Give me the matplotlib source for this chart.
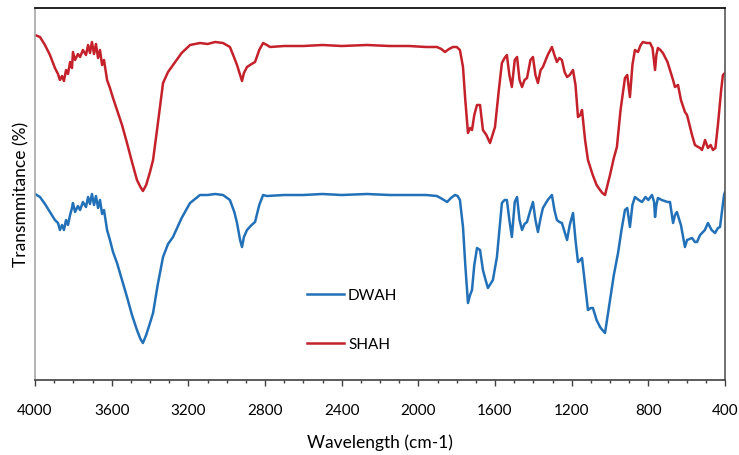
import matplotlib
matplotlib.use("Agg")
import matplotlib.pyplot as plt
from matplotlib.ticker import MultipleLocator

plt.rcParams['font.family'] = ['Lato', 'DejaVu Sans']

# FTIR spectra, transmittance in arbitrary (offset) units
shah_wn = [4000, 3974, 3948, 3922, 3896, 3880, 3870, 3859, 3849, 3838, 3828, 3817, 3807, 3802,
           3791, 3776, 3765, 3750, 3734, 3723, 3713, 3703, 3692, 3682, 3671, 3661, 3650, 3640,
           3624, 3609, 3593, 3572, 3546, 3520, 3494, 3468, 3450, 3437, 3420, 3400, 3384, 3360,
           3332, 3306, 3280, 3235, 3191, 3139, 3100, 3060, 3019, 2983, 2960, 2946, 2930, 2920,
           2910, 2894, 2870, 2852, 2830, 2810, 2790, 2774, 2700, 2600, 2500, 2400, 2268, 2150,
           2050, 1960, 1903, 1880, 1861, 1840, 1819, 1800, 1783, 1767, 1755, 1741, 1730, 1720,
           1708, 1694, 1678, 1663, 1645, 1626, 1600, 1580, 1564, 1550, 1538, 1525, 1512, 1497,
           1485, 1472, 1459, 1446, 1433, 1415, 1402, 1389, 1376, 1362, 1350, 1325, 1303, 1290,
           1277, 1264, 1251, 1237, 1224, 1210, 1193, 1180, 1167, 1155, 1146, 1130, 1115, 1090,
           1070, 1052, 1040, 1026, 1000, 980, 964, 945, 922, 910, 896, 883, 870, 854, 840, 828,
           810, 791, 778, 765, 758, 750, 737, 724, 700, 687, 671, 661, 645, 630, 609, 598, 572,
           557, 540, 530, 520, 510, 504, 489, 475, 463, 450, 437, 420, 411, 400]
shah_t = [345, 343, 335, 325, 312, 306, 300, 304, 299, 310, 306, 318, 312, 328,
          320, 326, 323, 330, 325, 335, 327, 338, 326, 336, 322, 330, 315, 320,
          300, 292, 282, 270, 255, 237, 218, 200, 193, 189, 195, 208, 220, 255,
          297, 308, 315, 327, 335, 337, 336, 338, 337, 333, 322, 315, 305, 299,
          307, 313, 316, 318, 330, 337, 335, 333, 334, 334, 335, 334, 335, 334,
          334, 333, 333, 331, 328, 331, 333, 333, 330, 313, 280, 247, 252, 250,
          265, 275, 275, 250, 245, 237, 253, 290, 317, 322, 325, 305, 293, 320,
          323, 300, 293, 300, 302, 320, 323, 305, 297, 310, 313, 325, 333, 325,
          318, 322, 320, 308, 303, 305, 310, 295, 263, 265, 270, 240, 220, 205,
          195, 190, 187, 185, 205, 222, 233, 270, 302, 305, 283, 315, 330, 328, 335, 338,
          337, 337, 332, 310, 325, 332, 330, 327, 318, 310, 300, 293, 295, 280, 268, 265, 245,
          235, 233, 232, 230, 236, 240, 232, 235, 230, 232, 255, 290, 305, 307]

dwah_wn = [4000, 3974, 3948, 3922, 3896, 3880, 3870, 3859, 3849, 3838, 3828, 3817, 3807, 3802,
           3791, 3776, 3765, 3750, 3734, 3723, 3713, 3703, 3692, 3682, 3671, 3661, 3650, 3640,
           3624, 3609, 3593, 3572, 3546, 3520, 3494, 3468, 3450, 3437, 3420, 3400, 3384, 3360,
           3332, 3306, 3280, 3235, 3191, 3139, 3100, 3060, 3019, 2983, 2960, 2946, 2930, 2920,
           2910, 2894, 2870, 2852, 2830, 2810, 2790, 2700, 2600, 2500, 2400, 2268, 2150, 2050,
           1960, 1903, 1875, 1850, 1830, 1809, 1795, 1783, 1767, 1755, 1741, 1730, 1720, 1708,
           1694, 1678, 1663, 1652, 1637, 1611, 1590, 1564, 1550, 1538, 1525, 1512, 1497, 1485,
           1472, 1459, 1446, 1433, 1415, 1402, 1389, 1376, 1362, 1350, 1325, 1303, 1290, 1277,
           1264, 1251, 1237, 1224, 1210, 1193, 1180, 1167, 1155, 1146, 1130, 1115, 1100, 1089,
           1070, 1052, 1040, 1026, 1000, 980, 958, 940, 922, 910, 896, 883, 870, 850, 833, 815,
           800, 781, 770, 765, 758, 750, 730, 700, 687, 671, 661, 651, 630, 609, 598, 572, 557,
           546, 530, 520, 505, 489, 470, 452, 437, 426, 415, 405, 400]
dwah_t = [186, 183, 176, 168, 160, 157, 150, 155, 150, 160, 155, 165, 172, 177,
          168, 174, 170, 178, 173, 183, 176, 186, 175, 184, 172, 180, 166, 170,
          150, 140, 128, 117, 100, 83, 65, 50, 41, 37, 45, 57, 67, 95,
          123, 136, 143, 162, 177, 185, 185, 186, 185, 180, 168, 157, 140, 133,
          143, 150, 155, 158, 175, 185, 184, 185, 185, 186, 185, 186, 185, 185,
          185, 184, 181, 178, 182, 185, 184, 180, 153, 115, 77, 85, 90, 115,
          132, 130, 110, 102, 92, 100, 123, 177, 180, 180, 160, 143, 178, 183,
          160, 150, 156, 158, 170, 178, 160, 148, 162, 172, 180, 185, 170, 160,
          158, 157, 148, 140, 155, 167, 140, 118, 120, 122, 95, 70, 72, 72,
          60, 53, 50, 47, 80, 105, 127, 150, 170, 172, 153, 175, 183, 180, 178, 183,
          180, 185, 178, 163, 175, 182, 180, 178, 178, 157, 165, 168, 155, 133, 140, 142, 138,
          138, 145, 147, 150, 157, 150, 147, 152, 153, 170, 185, 188]

xticks = [4000, 3600, 3200, 2800, 2400, 2000, 1600, 1200, 800, 400]

fig = plt.figure(figsize=(7.39, 4.55), dpi=100)
ax = fig.add_axes([35 / 739, 1 - 380 / 455, 690 / 739, 372 / 455])

line_d, = ax.plot(dwah_wn, dwah_t, color='#2271b8', lw=1.8, label='DWAH')
line_s, = ax.plot(shah_wn, shah_t, color='#c4212b', lw=1.8, label='SHAH')

ax.set_xlim(4000, 400)
ax.set_ylim(0, 372)
ax.set_xticks(xticks)
ax.set_xticklabels([str(t) for t in xticks])
ax.xaxis.set_minor_locator(MultipleLocator(100))
ax.set_yticks([])
ax.tick_params(axis='x', which='major', direction='out', length=4, width=1,
               color='#404040', labelsize=11, pad=13)
ax.tick_params(axis='x', which='minor', direction='out', length=2.5, width=1, color='#404040')

ax.spines['left'].set_color('#a6a6a6')
ax.spines['top'].set_color('black')
ax.spines['right'].set_color('#595959')
ax.spines['bottom'].set_color('#404040')
for s in ax.spines.values():
    s.set_linewidth(1.2)

ax.set_xlabel('Wavelength (cm-1)', fontsize=12.5, labelpad=12)
ax.set_ylabel('Transmmitance (%)', fontsize=12.5, labelpad=4)

ax.legend(handles=[line_d, line_s], loc='center left', bbox_to_anchor=(0.394, 0.161),
          frameon=False, fontsize=11, handlelength=2.4, handletextpad=0.3,
          labelspacing=2.3, borderpad=0, borderaxespad=0)

fig.savefig('out.png', dpi=100)
